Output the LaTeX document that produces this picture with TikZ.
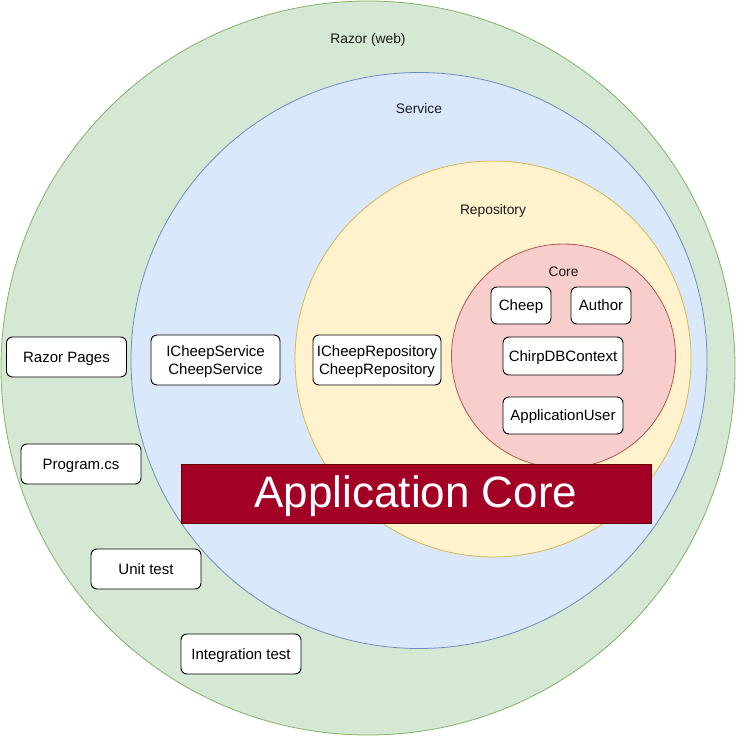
\documentclass[tikz,border=0pt]{standalone}
\usepackage{fontspec}
\setmainfont{Liberation Sans}
\begin{document}
\begin{tikzpicture}[x=1pt,y=-1pt,
  layer/.style={circle,line width=0.8pt,inner sep=0pt},
  lbl/.style={font=\fontsize{13.8}{16}\selectfont,text=black!90,text depth=0pt},
  item/.style={draw=black,fill=white,rounded corners=6pt,line width=0.9pt,
    font=\fontsize{15}{17.7}\selectfont,align=center,inner sep=0pt,text depth=0pt},
  banner/.style={draw=red!40!black,fill=bannerred,line width=0.8pt,
    text=white,font=\fontsize{44}{50}\selectfont,inner sep=0pt,
    text height=28pt,text depth=0pt}]
\definecolor{webfill}{HTML}{D5E8D4}\definecolor{webline}{HTML}{82B366}
\definecolor{svcfill}{HTML}{DAE8FC}\definecolor{svcline}{HTML}{6C8EBF}
\definecolor{repofill}{HTML}{FFF2CC}\definecolor{repoline}{HTML}{D6B656}
\definecolor{corefill}{HTML}{F8CECC}\definecolor{coreline}{HTML}{B85450}
\definecolor{bannerred}{HTML}{A20025}
\useasboundingbox (0,0) rectangle (738,738);
% concentric layers
\node[layer,fill=webfill,draw=webline,minimum size=734pt] (web) at (368,368) {};
\node[layer,fill=svcfill,draw=svcline,minimum size=576pt] (svc) at (419,360.5) {};
\node[layer,fill=repofill,draw=repoline,minimum size=396pt] (repo) at (493,359) {};
\node[layer,fill=corefill,draw=coreline,minimum size=224pt] (core) at (563.5,356) {};
% layer titles
\node[lbl] (webt) at (368,39) {Razor (web)};
\node[lbl] (svct) at (419,109) {Service};
\node[lbl] (repot) at (493,209) {Repository};
\node[lbl] (coret) at (563.5,272) {Core};
% outer layer items
\node[item,minimum width=120pt,minimum height=40pt] (pages) at (66.5,357) {Razor Pages};
\node[item,minimum width=120pt,minimum height=40pt] (prog) at (81,464) {Program.cs};
\node[item,minimum width=110pt,minimum height=40pt] (unit) at (146,569) {Unit test};
\node[item,minimum width=120pt,minimum height=40pt] (integ) at (241,654) {Integration test};
% service and repository items
\node[item,minimum width=129pt,minimum height=50pt] (service) at (215.5,360) {ICheepService\\CheepService};
\node[item,minimum width=128pt,minimum height=50pt] (repository) at (377,360) {ICheepRepository\\CheepRepository};
% core items
\node[item,minimum width=60pt,minimum height=37pt] (cheep) at (521,305.5) {Cheep};
\node[item,minimum width=60pt,minimum height=37pt] (author) at (601,305.5) {Author};
\node[item,minimum width=120pt,minimum height=38pt] (ctx) at (563,356) {ChirpDBContext};
\node[item,minimum width=120pt,minimum height=37pt] (user) at (563,415.5) {ApplicationUser};
% banner
\node[banner,minimum width=470pt,minimum height=59pt] (appcore) at (416,493.5) {Application Core};
\end{tikzpicture}
\end{document}
